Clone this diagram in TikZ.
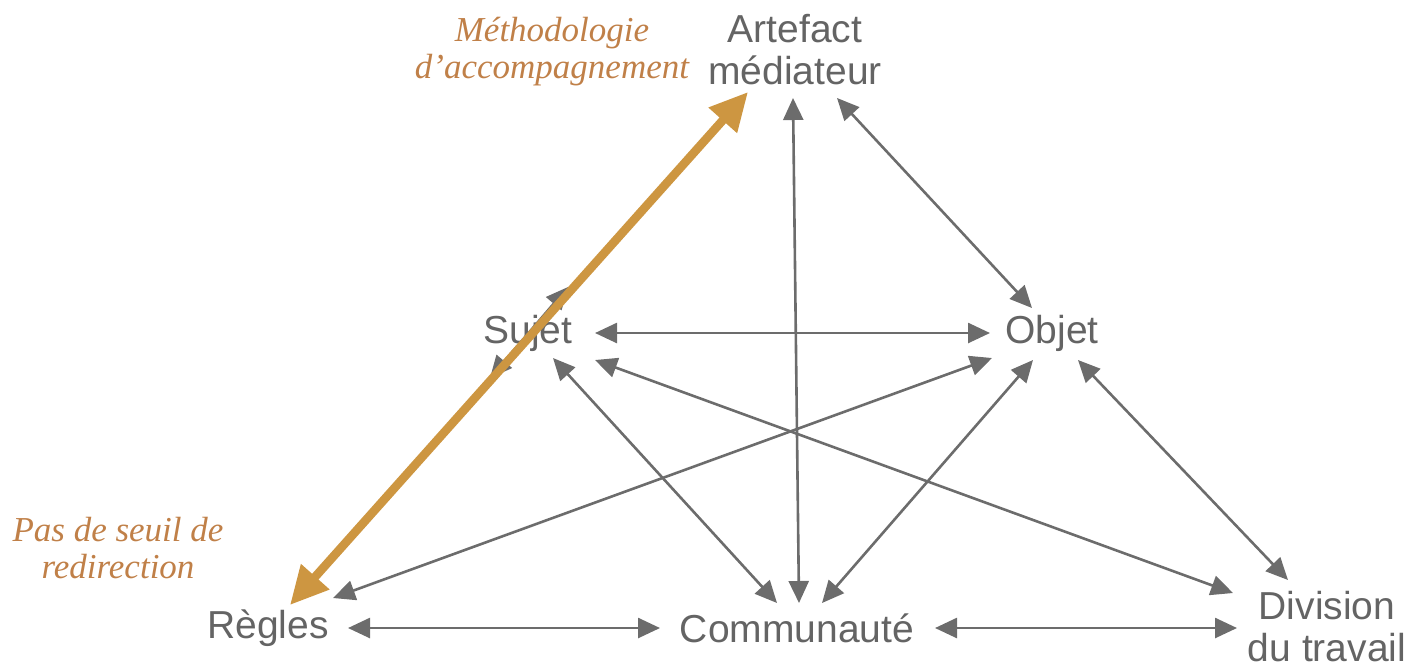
\documentclass[tikz,border=0pt]{standalone}
\usepackage{fontspec}
\setmainfont{Liberation Sans}
\newfontfamily\orfont{Liberation Serif}
\usetikzlibrary{arrows.meta,calc}
\definecolor{graytxt}{RGB}{100,100,100}
\definecolor{grayln}{RGB}{108,108,108}
\definecolor{ortxt}{RGB}{192,128,72}
\definecolor{orarr}{RGB}{205,150,65}
\tikzset{
  lab/.style={text=graytxt, font=\fontsize{19.5}{21}\selectfont, align=center, inner sep=0pt},
  olab/.style={text=ortxt, font=\orfont\itshape\fontsize{17.5}{18.5}\selectfont, align=center, inner sep=0pt},
  garr/.style={draw=grayln, line width=1.3pt, {Triangle[length=11pt,width=10pt]}-{Triangle[length=11pt,width=10pt]}},
  oarr/.style={draw=orarr, line width=4.3pt, {Triangle[length=19pt,width=18pt]}-{Triangle[length=19pt,width=18pt]}}
}
\begin{document}
\begin{tikzpicture}[x=0.5pt,y=-0.5pt]
\useasboundingbox (0,0) rectangle (1416,671);
\node[lab] (art) at (795,50) {Artefact\\médiateur};
\node[lab] (suj) at (528,333) {Sujet};
\node[lab] (obj) at (1052,333) {Objet};
\node[lab] (reg) at (268,628) {Règles};
\node[lab] (com) at (797,628) {Communauté};
\node[lab] (div) at (1327,627) {Division\\du travail};
\node[olab] (meth) at (552,52) {Méthodologie\\d’accompagnement};
\node[olab] (pas) at (118,548) {Pas de seuil de\\redirection};

\draw[garr] ($(art)+(-2,48)$) -- ($(com)+(2,-25)$);
\draw[garr] ($(art)+(42,48)$) -- ($(obj)+(-20,-25)$);
\draw[garr] ($(suj)+(67,0)$) -- ($(obj)+(-62,0)$);
\draw[garr] ($(suj)+(25,25)$) -- ($(com)+(-20,-25)$);
\draw[garr] ($(suj)+(67,27)$) -- ($(div)+(-94,-34)$);
\draw[garr] ($(reg)+(65,-30)$) -- ($(obj)+(-60,25)$);
\draw[garr] ($(com)+(25,-25)$) -- ($(obj)+(-19,27)$);
\draw[garr] ($(obj)+(26,27)$) -- ($(div)+(-39,-47)$);
\draw[garr] ($(reg)+(80,0)$) -- ($(com)+(-137,0)$);
\draw[garr] ($(com)+(138,0)$) -- ($(div)+(-90,1)$);
\draw[garr] ($(suj)+(-38,45)$) -- ($(suj)+(40,-46)$);
\draw[oarr] ($(reg)+(22,-23)$) -- ($(art)+(-47,42)$);
\end{tikzpicture}
\end{document}
